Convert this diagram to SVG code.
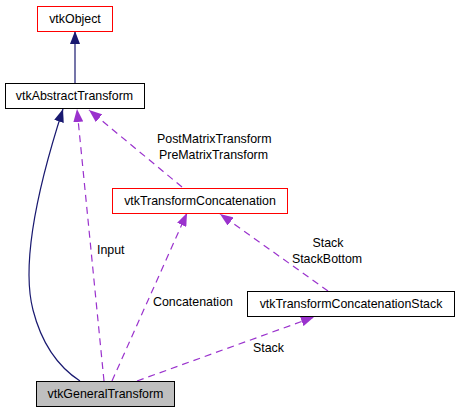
<svg xmlns="http://www.w3.org/2000/svg" width="459" height="413" viewBox="0 0 459 413">
<style>
text{font-family:"Liberation Sans",Arial,sans-serif;font-size:12.4px;fill:#000}
.n text{text-anchor:middle}
.box{fill:#fff;stroke:#000;stroke-width:1}
.red{stroke:#ff0000}
.solid{fill:none;stroke:#191970;stroke-width:1.2}
.dash{fill:none;stroke:#9a32cd;stroke-width:1.2;stroke-dasharray:7,5}
</style>
<defs>
<marker id="an" markerUnits="userSpaceOnUse" viewBox="0 0 13 10" refX="13" refY="5" markerWidth="13" markerHeight="10" orient="auto"><path d="M0,0 L13,5 L0,10 Z" fill="#191970"/></marker>
<marker id="ap" markerUnits="userSpaceOnUse" viewBox="0 0 13 10" refX="13" refY="5" markerWidth="13" markerHeight="10" orient="auto"><path d="M0,0 L13,5 L0,10 Z" fill="#9a32cd"/></marker>
</defs>
<g id="connectors">
<path class="solid" d="M75,83 L75,31" marker-end="url(#an)"/>
<path class="solid" d="M80,381 C60,368 42,345 33,310 C20,260 40,180 63,109" marker-end="url(#an)"/>
<path class="dash" d="M104,381 L77,109" marker-end="url(#ap)"/>
<path class="dash" d="M112,381 L187,213" marker-end="url(#ap)"/>
<path class="dash" d="M182,187 L89,110" marker-end="url(#ap)"/>
<path class="dash" d="M328,291 L220,214" marker-end="url(#ap)"/>
<path class="dash" d="M137,381 L314,317" marker-end="url(#ap)"/>
<text x="157" y="143">PostMatrixTransform</text>
<text x="159" y="159">PreMatrixTransform</text>
<text x="97" y="254">Input</text>
<text x="153" y="306">Concatenation</text>
<text x="328" y="247" text-anchor="middle">Stack</text>
<text x="327" y="263" text-anchor="middle">StackBottom</text>
<text x="253" y="352">Stack</text>
</g>
<g id="vtkObject" class="n"><rect class="box red" x="37.5" y="6.5" width="75" height="25"/><text x="75" y="23">vtkObject</text></g>
<g id="vtkAbstractTransform" class="n"><rect class="box" x="5.5" y="83.5" width="139" height="25"/><text x="74.5" y="100">vtkAbstractTransform</text></g>
<g id="vtkTransformConcatenation" class="n"><rect class="box red" x="112.5" y="188.5" width="175" height="25"/><text x="200" y="205">vtkTransformConcatenation</text></g>
<g id="vtkTransformConcatenationStack" class="n"><rect class="box" x="247.5" y="291.5" width="207" height="25"/><text x="351" y="308">vtkTransformConcatenationStack</text></g>
<g id="vtkGeneralTransform" class="n"><rect class="box" style="fill:#bfbfbf" x="36.5" y="381.5" width="138" height="25"/><text x="105.5" y="398">vtkGeneralTransform</text></g>
</svg>
